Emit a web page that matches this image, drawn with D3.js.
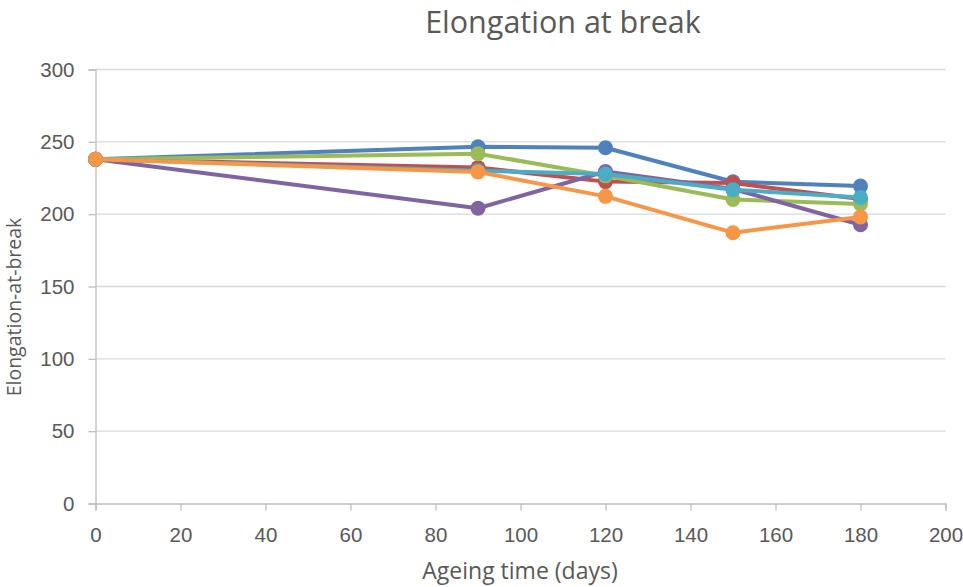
<!DOCTYPE html>
<html>
<head>
<meta charset="utf-8">
<script src="https://cdn.jsdelivr.net/npm/d3@7"></script>
<style>
  body { margin: 0; background: #fff; }
  svg { display: block; font-family: "Open Sans", "Noto Sans", sans-serif; }
</style>
</head>
<body>
<svg id="chart" width="963" height="587"></svg>
<script>
// Ageing time points (days)
const days = [0, 90, 120, 150, 180];

// Elongation-at-break for each sample series
const seriesBlue   = [238, 246.6, 245.9, 222.4, 219.4];
const seriesRed    = [238, 232.2, 222.5, 221.5, 210.5];
const seriesGreen  = [238, 241.8, 226.5, 210.1, 207.1];
const seriesPurple = [238, 204.1, 229.5, 217.4, 192.7];
const seriesCyan   = [238, 230.0, 227.7, 216.9, 211.6];
const seriesOrange = [238, 229.2, 212.3, 187.2, 198.1];

const seriesColors = ["#4F81BD", "#C0504D", "#9BBB59", "#8064A2", "#4BACC6", "#F79646"];
const allSeries = [seriesBlue, seriesRed, seriesGreen, seriesPurple, seriesCyan, seriesOrange];

const xTicks = [0, 20, 40, 60, 80, 100, 120, 140, 160, 180, 200];
const yTicks = [0, 50, 100, 150, 200, 250, 300];

const svg = d3.select("#chart");
const plotLeft = 95.5, plotRight = 945.5, plotTop = 69.5, plotBottom = 503.5;

const x = d3.scaleLinear().domain([0, 200]).range([plotLeft, plotRight]);
const y = d3.scaleLinear().domain([0, 300]).range([plotBottom, plotTop]);

// horizontal gridlines
svg.append("g")
  .selectAll("line")
  .data(yTicks.filter(d => d > 0))
  .join("line")
  .attr("x1", plotLeft).attr("x2", plotRight)
  .attr("y1", d => y(d)).attr("y2", d => y(d))
  .attr("stroke", "#d9d9d9").attr("stroke-width", 1.3);

// y axis
const yAxis = svg.append("g")
  .attr("transform", `translate(${plotLeft},0)`)
  .call(d3.axisLeft(y).tickValues(yTicks).tickSize(7).tickPadding(14));
yAxis.select(".domain").attr("stroke", "#bfbfbf").attr("stroke-width", 1.3);
yAxis.selectAll(".tick line").attr("stroke", "#bfbfbf").attr("stroke-width", 1.3);
yAxis.selectAll("text").attr("fill", "#595959").style("font-size", "20.5px");

// x axis
const xAxis = svg.append("g")
  .attr("transform", `translate(0,${plotBottom})`)
  .call(d3.axisBottom(x).tickValues(xTicks).tickSize(7).tickPadding(17));
xAxis.select(".domain").attr("stroke", "#bfbfbf").attr("stroke-width", 1.3);
xAxis.selectAll(".tick line").attr("stroke", "#bfbfbf").attr("stroke-width", 1.3);
xAxis.selectAll("text").attr("fill", "#595959").style("font-size", "20.5px");

// titles
svg.append("text")
  .attr("x", 563).attr("y", 33)
  .attr("text-anchor", "middle")
  .attr("fill", "#595959")
  .style("font-size", "30.5px")
  .text("Elongation at break");

svg.append("text")
  .attr("x", 520).attr("y", 579)
  .attr("text-anchor", "middle")
  .attr("fill", "#595959")
  .style("font-size", "23px")
  .text("Ageing time (days)");

svg.append("text")
  .attr("transform", `translate(21,307) rotate(-90)`)
  .attr("text-anchor", "middle")
  .attr("fill", "#595959")
  .style("font-size", "19.5px")
  .text("Elongation-at-break");

// series lines and markers
const line = d3.line().x((d, i) => x(days[i])).y(d => y(d));

allSeries.forEach((vals, k) => {
  const g = svg.append("g");
  g.append("path")
    .datum(vals)
    .attr("d", line)
    .attr("fill", "none")
    .attr("stroke", seriesColors[k])
    .attr("stroke-width", 4)
    .attr("stroke-linejoin", "round");
  g.selectAll("circle")
    .data(vals)
    .join("circle")
    .attr("cx", (d, i) => x(days[i]))
    .attr("cy", d => y(d))
    .attr("r", 7.5)
    .attr("fill", seriesColors[k]);
});
</script>
</body>
</html>
